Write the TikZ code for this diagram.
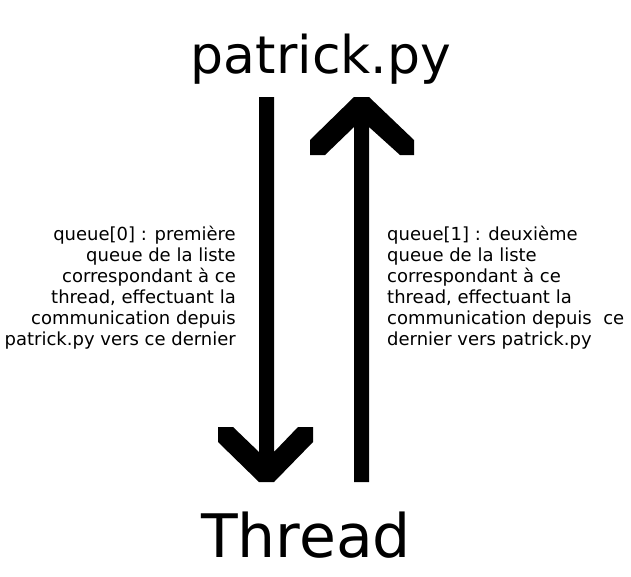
\documentclass[tikz,border=0pt]{standalone}
\usepackage{fontspec}
\setmainfont{DejaVu Sans}
\begin{document}
\begin{tikzpicture}[x=1pt,y=-1pt,
  title/.style={inner sep=0pt,anchor=base,font=\fontsize{52}{60}\selectfont},
  label/.style={inner sep=0pt,font=\fontsize{18}{20.9}\selectfont},
  arrowshape/.style={fill=black,draw=none}]
\useasboundingbox[fill=white] (0,0) rectangle (631,576);
\node[title] (top) at (321,73) {patrick.py};
\node[title,font=\fontsize{60}{66}\selectfont] (bottom) at (306,557) {Thread};
% downward arrow
\fill[arrowshape] (259,97) -- (259,452) -- (233,427) -- (218,427) -- (218,442)
  -- (259,482) -- (274,482) -- (313,442) -- (313,427) -- (298,427) -- (274,452)
  -- (274,97) -- cycle;
% upward arrow
\fill[arrowshape] (354,482) -- (354,127) -- (325,155) -- (310,155) -- (310,140)
  -- (354,97) -- (369,97) -- (414,140) -- (414,155) -- (400,155) -- (369,127)
  -- (369,482) -- cycle;
\node[label,align=right,anchor=north east] (q0) at (236,226) {queue[0] : première\\queue de la liste\\correspondant à ce\\thread, effectuant la\\communication depuis\\patrick.py vers ce dernier};
\node[label,align=left,anchor=north west] (q1) at (387,226) {queue[1] : deuxième\\queue de la liste\\correspondant à ce\\thread, effectuant la\\communication depuis~ ce\\dernier vers patrick.py};
\end{tikzpicture}
\end{document}
